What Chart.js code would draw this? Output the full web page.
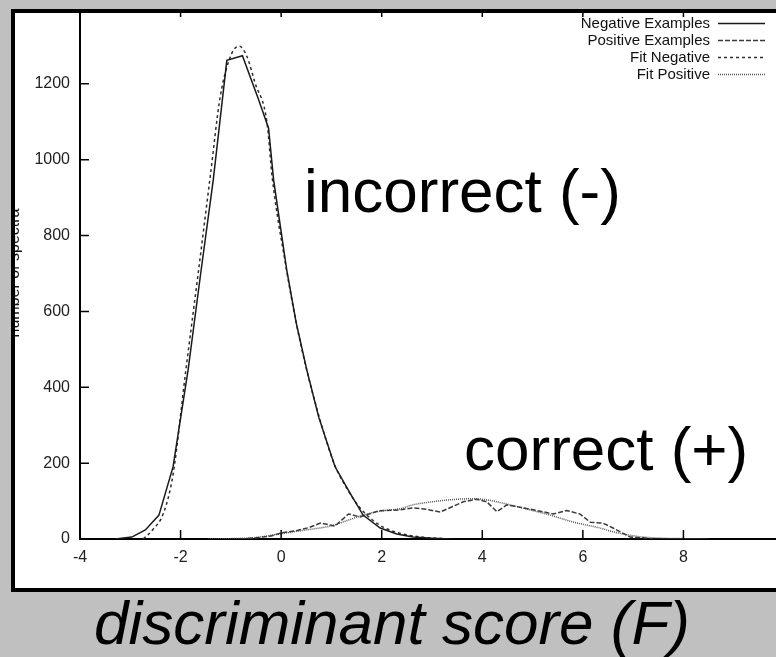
<!DOCTYPE html>
<html lang="en">
<head>
<meta charset="UTF-8">
<title>Discriminant score distribution</title>
<script src="https://cdn.jsdelivr.net/npm/chart.js"></script>
<style>
  * { margin: 0; padding: 0; box-sizing: border-box; }
  body {
    width: 776px;
    height: 657px;
    background: #c0c0c0;
    overflow: hidden;
    position: relative;
    font-family: 'Liberation Sans', Arial, sans-serif;
  }
  .frame {
    position: absolute;
    left: 11px;
    top: 9px;
    width: 790px;
    height: 583px;
    background: #fff;
    overflow: hidden;
  }
  .frame canvas {
    position: absolute;
    left: -11px;
    top: -9px;
  }
  .frame-border {
    position: absolute;
    left: 11px;
    top: 9px;
    width: 790px;
    height: 583px;
    border: 4px solid #000;
    pointer-events: none;
  }
  .note {
    position: absolute;
    font-size: 62px;
    line-height: 1;
    color: #000;
    white-space: nowrap;
  }
  .xtitle { font-style: italic; }
</style>
</head>
<body>

<div class="frame">
  <canvas id="chart" width="800" height="600" style="width:800px;height:600px"></canvas>
</div>
<div class="note" style="left:304px; top:160px;">incorrect (-)</div>
<div class="note" style="left:464px; top:418px;">correct (+)</div>
<div class="frame-border"></div>
<div class="note xtitle" style="left:94px; top:592px;">discriminant score (F)</div>

<script>
  // histogram of negative (incorrect) examples
  var negX = [-3.3, -2.97, -2.7, -2.43, -2.15, -1.85, -1.6, -1.35, -1.08, -0.77, -0.46, -0.25, -0.15, 0.11, 0.3, 0.51, 0.75, 1.07, 1.37, 1.63, 1.97, 2.3, 2.62, 3.0, 3.35];
  var negY = [0, 5, 24, 63, 190, 446, 700, 947, 1262, 1274, 1163, 1083, 947, 710, 570, 446, 320, 191, 121, 63, 29, 13, 5, 2, 0];

  // histogram of positive (correct) examples
  var posX = [-0.8, -0.5, -0.2, 0, 0.3, 0.55, 0.78, 1.07, 1.34, 1.57, 1.93, 2.37, 2.62, 2.9, 3.16, 3.4, 3.62, 3.89, 4.09, 4.29, 4.49, 4.75, 5.01, 5.2, 5.41, 5.68, 5.94, 6.15, 6.4, 6.6, 6.94, 7.2, 7.4];
  var posY = [0, 3, 8, 16, 22, 30, 42, 34, 66, 58, 74, 77, 82, 78, 71, 85, 98, 105, 98, 72, 90, 84, 77, 72, 66, 75, 66, 44, 42, 29, 5, 3, 0];

  // fitted distributions
  var fitNegX = [-2.74, -2.55, -2.34, -2.15, -1.9, -1.65, -1.41, -1.21, -0.98, -0.83, -0.68, -0.52, -0.28, -0.18, 0.1, 0.3, 0.5, 0.75, 1.05, 1.3, 1.55, 1.8, 2.05, 2.4, 2.8, 3.4];
  var fitNegY = [0, 25, 68, 170, 440, 700, 956, 1167, 1281, 1299, 1272, 1203, 1097, 956, 715, 570, 450, 325, 200, 135, 85, 52, 30, 14, 5, 0];

  var fitPosX = [-1.45, -1.0, -0.5, 0, 0.5, 0.97, 1.3, 1.63, 2.0, 2.37, 2.62, 3.0, 3.42, 3.8, 4.1, 4.55, 5.0, 5.35, 5.8, 6.34, 6.6, 7.14, 7.6, 8.0, 8.5];
  var fitPosY = [0, 1, 4, 14, 24, 34, 48, 63, 74, 80, 90, 98, 104, 106, 103, 90, 75, 63, 45, 29, 19, 6, 2, 1, 0];

  var xMin = -4, xMax = 10, xStep = 2;
  var yMin = 0, yMax = 1400, yStep = 200;

  var FONT = '"Liberation Sans", Arial, sans-serif';

  function pts(xs, ys) {
    return xs.map(function (x, i) { return { x: x, y: ys[i] }; });
  }

  // gnuplot style: ticks pointing into the plot, top border
  var inwardTicks = {
    id: 'inwardTicks',
    afterDatasetsDraw: function (chart) {
      var ctx = chart.ctx, a = chart.chartArea;
      var x = chart.scales.x, y = chart.scales.y;
      ctx.save();
      ctx.strokeStyle = '#000';
      ctx.lineWidth = 1.5;
      ctx.beginPath();
      x.ticks.forEach(function (t) {
        var px = x.getPixelForValue(t.value);
        ctx.moveTo(px, a.bottom); ctx.lineTo(px, a.bottom - 9);
        ctx.moveTo(px, a.top); ctx.lineTo(px, a.top + 9);
      });
      y.ticks.forEach(function (t) {
        var py = y.getPixelForValue(t.value);
        ctx.moveTo(a.left, py); ctx.lineTo(a.left + 9, py);
      });
      ctx.moveTo(a.left, a.top); ctx.lineTo(a.right, a.top);
      ctx.stroke();
      ctx.restore();
    }
  };

  // key in the top right corner: label first, line sample after it
  var gnuLegend = {
    id: 'gnuLegend',
    afterDraw: function (chart) {
      var ctx = chart.ctx;
      ctx.save();
      ctx.font = '15px ' + FONT;
      ctx.textAlign = 'right';
      ctx.textBaseline = 'middle';
      ctx.fillStyle = '#111';
      chart.data.datasets.forEach(function (ds, i) {
        var yy = 23.5 + i * 17;
        ctx.fillText(ds.label, 710, yy);
        ctx.strokeStyle = ds.borderColor;
        ctx.lineWidth = 1.5;
        ctx.setLineDash(ds.borderDash || []);
        ctx.beginPath();
        ctx.moveTo(718, yy);
        ctx.lineTo(765, yy);
        ctx.stroke();
      });
      ctx.restore();
    }
  };

  // rotated y title, partly hidden under the frame
  var yTitle = {
    id: 'yTitle',
    afterDraw: function (chart) {
      var ctx = chart.ctx;
      ctx.save();
      ctx.translate(19, 273);
      ctx.rotate(-Math.PI / 2);
      ctx.font = '16px ' + FONT;
      ctx.fillStyle = '#111';
      ctx.textAlign = 'center';
      ctx.textBaseline = 'alphabetic';
      ctx.fillText('number of spectra', 0, 0);
      ctx.restore();
    }
  };

  var ctx = document.getElementById('chart').getContext('2d');
  var chart = new Chart(ctx, {
    type: 'line',
    data: {
      datasets: [
        {
          label: 'Negative Examples',
          data: pts(negX, negY),
          borderColor: '#1a1a1a',
          borderWidth: 1.5
        },
        {
          label: 'Positive Examples',
          data: pts(posX, posY),
          borderColor: '#3a3a3a',
          borderWidth: 1.5,
          borderDash: [5, 2]
        },
        {
          label: 'Fit Negative',
          data: pts(fitNegX, fitNegY),
          borderColor: '#2e2e2e',
          borderWidth: 1.5,
          borderDash: [3, 3],
          cubicInterpolationMode: 'monotone'
        },
        {
          label: 'Fit Positive',
          data: pts(fitPosX, fitPosY),
          borderColor: '#555',
          borderWidth: 1.5,
          borderDash: [1, 1],
          cubicInterpolationMode: 'monotone'
        }
      ]
    },
    options: {
      responsive: false,
      animation: false,
      devicePixelRatio: 1,
      layout: { padding: { top: 8, right: 16, left: 0, bottom: 0 } },
      elements: { point: { radius: 0 }, line: { fill: false } },
      plugins: {
        legend: { display: false },
        tooltip: { enabled: false }
      },
      scales: {
        x: {
          type: 'linear',
          min: xMin,
          max: xMax,
          ticks: {
            stepSize: xStep, color: '#222', font: { size: 16, family: FONT }, padding: 9, maxRotation: 0,
            callback: function (v) { return String(v); }
          },
          grid: { display: false, drawTicks: false },
          border: { display: true, color: '#000', width: 2 },
          afterFit: function (s) { s.height = 61; s.paddingLeft = 0; s.paddingRight = 0; }
        },
        y: {
          type: 'linear',
          min: yMin,
          max: yMax,
          ticks: {
            stepSize: yStep, color: '#222', font: { size: 16, family: FONT }, padding: 10,
            callback: function (v) { return String(v); }
          },
          grid: { display: false, drawTicks: false },
          border: { display: true, color: '#000', width: 2 },
          afterFit: function (s) { s.width = 80; s.paddingTop = 0; s.paddingBottom = 0; }
        }
      }
    },
    plugins: [inwardTicks, gnuLegend, yTitle]
  });
</script>

</body>
</html>
